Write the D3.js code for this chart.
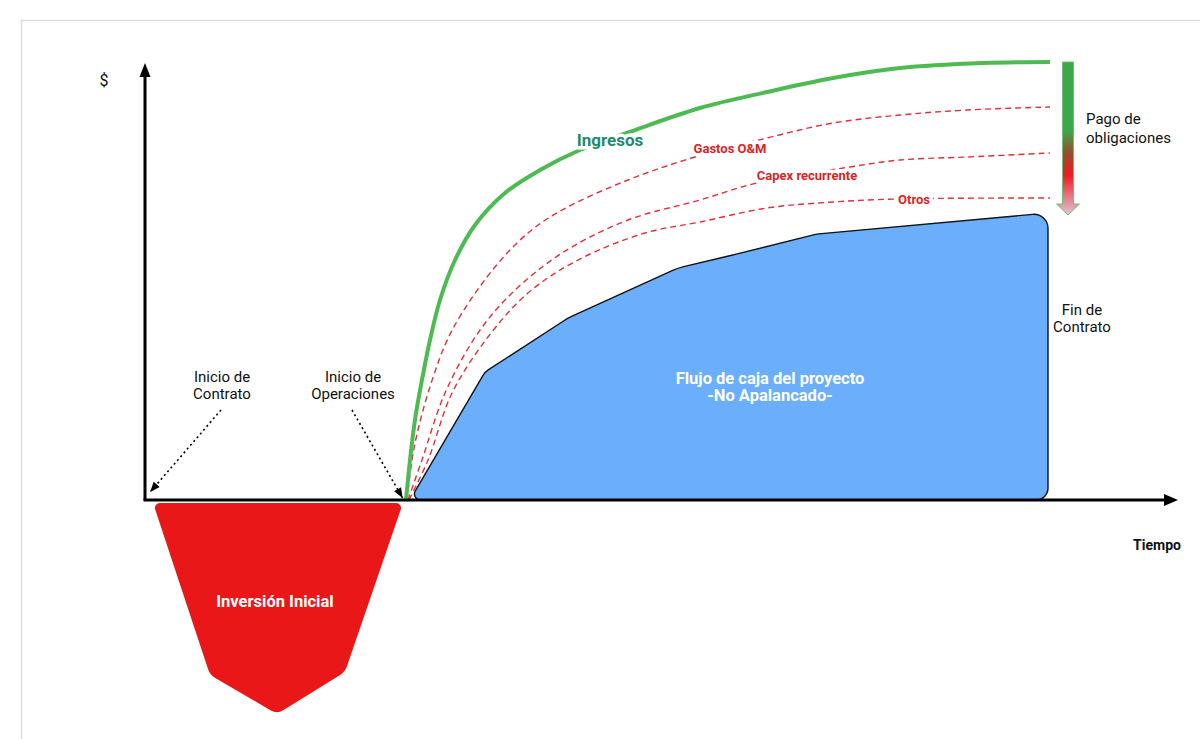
<!DOCTYPE html>
<html><head><meta charset="utf-8">
<script src="https://cdn.jsdelivr.net/npm/d3@7"></script>
<style>html,body{margin:0;padding:0;background:#fff}svg{display:block;font-family:Roboto,"Noto Sans",sans-serif}</style>
</head><body><svg id="c" width="1200" height="739"></svg>
<script>
// ---- data (time units, $ units) ----
const opsStart = 25.3;       // Inicio de Operaciones
const contractEnd = 87.7;    // Fin de Contrato
const ingresosT = [25.34,25.73,26.21,26.89,27.67,28.64,30.10,32.04,34.95,38.35,42.23,47.57,53.88,60.39,66.80,73.30,81.36,87.86];
const ingresosV = [0,9.13,18.26,27.40,36.53,45.66,54.79,62.79,70.09,75.34,79.91,84.47,89.50,93.15,96.35,98.63,99.77,100];
const gastosT = [25.44,25.92,26.50,27.48,29.13,30.78,33.98,37.18,40.49,46.89,53.40,60.39,66.80,73.30,79.81,87.86];
const gastosV = [0,9.13,15.98,24.43,35.39,42.69,53.20,60.96,66.21,73.06,78.31,82.65,86.07,87.90,89.04,89.73];
const capexT = [25.53,26.89,29.13,32.33,35.63,40.49,46.89,53.88,59.42,68.45,73.30,79.81,87.86];
const capexV = [0,9.13,24.43,38.13,47.26,56.39,63.93,68.49,72.37,76.03,77.63,78.31,79.22];
const otrosT = [25.63,27.48,29.81,33.30,37.18,42.04,48.54,53.88,60.39,66.80,73.01,87.86];
const otrosV = [0,9.13,24.43,37.21,47.26,54.79,60.96,63.47,66.67,68.04,68.72,68.95];
const flujoT = [25.73,33.01,41.07,51.75,57.09,65.24,87.67,87.67];
const flujoV = [0,29.22,41.55,52.97,55.94,60.73,65.53,0];
const inversionT = [0.78,25.05,19.42,12.82,6.31];
const inversionV = [-0.68,-0.68,-39.27,-48.86,-39.95];
const seriesLabels = ["Ingresos","Gastos O&M","Capex recurrente","Otros"];

// ---- scales ----
const x = d3.scaleLinear().domain([0,100]).range([145,1175]);
const y = d3.scaleLinear().domain([0,100]).range([500,62]);
const svg = d3.select("#c");

// frame
svg.append("path").attr("d","M21.5,739 V20.5 H1200").attr("fill","none").attr("stroke","#dcdcdc").attr("stroke-width",1.5);

function rounded(pts, radii){
  const p = d3.path(); const n = pts.length;
  const m = [(pts[n-1][0]+pts[0][0])/2,(pts[n-1][1]+pts[0][1])/2];
  p.moveTo(m[0],m[1]);
  for(let i=0;i<n;i++){
    const a=pts[i], b=pts[(i+1)%n];
    p.arcTo(a[0],a[1],b[0],b[1],radii[i]);
  }
  p.closePath(); return p.toString();
}

// inversion
const invPts = inversionT.map((t,i)=>[x(t),y(inversionV[i])]);
svg.append("path").attr("d",rounded(invPts,[5,5,16,12,16])).attr("fill","#e91718");

// flujo
const fluPts = flujoT.map((t,i)=>[x(t),y(flujoV[i])]);
svg.append("path").attr("d",rounded(fluPts,[6,18,60,60,40,60,14,12]))
  .attr("fill","#6aaefc").attr("stroke","#111").attr("stroke-width",1.4);

// lines
const line = d3.line().x(d=>x(d[0])).y(d=>y(d[1])).curve(d3.curveCatmullRom.alpha(0.5));
const zip=(a,b)=>a.map((t,i)=>[t,b[i]]);
[[gastosT,gastosV],[capexT,capexV],[otrosT,otrosV]].forEach(([t,v])=>{
  svg.append("path").attr("d",line(zip(t,v))).attr("fill","none")
    .attr("stroke","#e0303a").attr("stroke-width",1.4).attr("stroke-dasharray","6,4");
});
svg.append("path").attr("d",line(zip(ingresosT,ingresosV))).attr("fill","none")
  .attr("stroke","#4dbb52").attr("stroke-width",4).attr("stroke-linecap","butt");

// series labels with white halo
function label(txt,cx,by,size,color){
  svg.append("text").attr("x",cx).attr("y",by).attr("text-anchor","middle")
    .attr("font-size",size).attr("font-weight","bold").attr("fill",color)
    .attr("stroke","#fff").attr("stroke-width",7).attr("paint-order","stroke").attr("stroke-linejoin","round").text(txt);
}
label(seriesLabels[0],610,146,17,"#1e8a6e");
label(seriesLabels[1],730,153,13,"#dc1f26");
label(seriesLabels[2],807,180,13,"#dc1f26");
label(seriesLabels[3],914,204,13,"#dc1f26");

// axes
const x0=x(0), y0=y(0);
svg.append("line").attr("x1",x0).attr("y1",y0).attr("x2",x0).attr("y2",y(100)+12).attr("stroke","#000").attr("stroke-width",3);
svg.append("path").attr("d",`M${x0},${y(100)+1} L${x0-5.5},${y(100)+15} L${x0+5.5},${y(100)+15} Z`).attr("fill","#000");
svg.append("line").attr("x1",x0-1.5).attr("y1",y0).attr("x2",x(100)-8).attr("y2",y0).attr("stroke","#000").attr("stroke-width",3);
svg.append("path").attr("d",`M${x(100)+3},${y0} L${x(100)-11},${y0-6} L${x(100)-11},${y0+6} Z`).attr("fill","#000");

// dotted annotations
function dotted(x1,y1,x2,y2){
  svg.append("line").attr("x1",x1).attr("y1",y1).attr("x2",x2).attr("y2",y2)
    .attr("stroke","#000").attr("stroke-width",1.6).attr("stroke-dasharray","2,3");
  const a=Math.atan2(y2-y1,x2-x1), L=10, w=4;
  const bx=x2-L*Math.cos(a), by=y2-L*Math.sin(a);
  svg.append("path").attr("d",`M${x2},${y2} L${bx-w*Math.sin(a)},${by+w*Math.cos(a)} L${bx+w*Math.sin(a)},${by-w*Math.cos(a)} Z`).attr("fill","#000");
}
dotted(221,410,x(0.5),y(0)-8);
dotted(352,410,x(opsStart)-3,y(0)-2);

function txt(t,xx,yy,size,anchor,weight,fill){
  svg.append("text").attr("x",xx).attr("y",yy).attr("font-size",size).attr("text-anchor",anchor||"middle")
   .attr("font-weight",weight||"normal").attr("fill",fill||"#111").text(t);
}
txt("$",104,86,16);
txt("Inicio de",222,382,15); txt("Contrato",222,399,15);
txt("Inicio de",353,382,15); txt("Operaciones",353,399,15);
txt("Fin de",1082,315,15); txt("Contrato",1082,332,15);
txt("Pago de",1086,124,15,"start"); txt("obligaciones",1086,143,15,"start");
txt("Tiempo",1157,550,14,"middle","bold");
txt("Flujo de caja del proyecto",770,384,16.5,"middle","bold","#fff");
txt("-No Apalancado-",770,401,16.5,"middle","bold","#fff");
txt("Inversión Inicial",275,607,16.5,"middle","bold","#fff");

// Pago de obligaciones gradient arrow
const defs=svg.append("defs");
const g=defs.append("linearGradient").attr("id","pg").attr("x1",0).attr("x2",0).attr("y1",0).attr("y2",1);
[[0,"#3da84a"],[0.45,"#3da84a"],[0.6,"#9a4a2c"],[0.74,"#ee1c24"],[1,"#dcc8d6"]].forEach(s=>g.append("stop").attr("offset",s[0]).attr("stop-color",s[1]));
svg.append("path").attr("d","M1062.5,62 H1073.5 V204 H1079.5 L1068,215 L1056.5,204 H1062.5 Z")
  .attr("fill","url(#pg)").attr("stroke","#6fbf6f").attr("stroke-width",1);
</script></body></html>
